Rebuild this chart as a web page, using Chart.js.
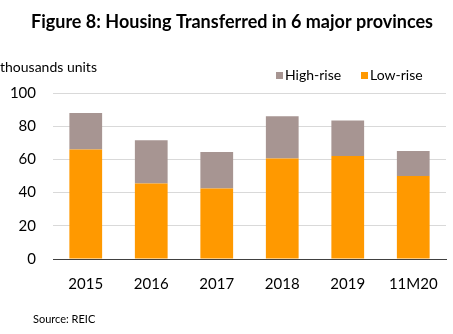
<!DOCTYPE html>
<html><head><meta charset="utf-8">
<script src="https://cdn.jsdelivr.net/npm/chart.js@4/dist/chart.umd.min.js"></script>
<style>html,body{margin:0;padding:0;background:#fff}#wrap{width:453px;height:334px}</style>
</head><body><div id="wrap"><canvas id="c" width="453" height="334"></canvas></div>
<script>
const categories = ['2015','2016','2017','2018','2019','11M20'];
const lowRise = [66, 45.5, 42.5, 60.5, 62, 50];
const highRise = [22, 26, 22, 25.5, 21.5, 15];
const yTicks = [0, 20, 40, 60, 80, 100];
const titleText = 'Figure 8: Housing Transferred in 6 major provinces';
const unitText = 'thousands units';
const sourceText = 'Source: REIC';
const FONT = 'Lato, "Open Sans", sans-serif';

const textPlugin = {
  id: 'texts',
  afterDraw(chart) {
    const ctx = chart.ctx;
    ctx.save();
    ctx.fillStyle = '#000';
    ctx.textBaseline = 'middle';
    ctx.font = 'bold 18px ' + FONT;
    ctx.textAlign = 'center';
    ctx.fillText(titleText, 232, 22);
    ctx.font = '14px ' + FONT;
    ctx.textAlign = 'left';
    ctx.fillText(unitText, 0, 67);
    ctx.font = '11px ' + FONT;
    ctx.fillText(sourceText, 33, 319);
    // legend
    const items = [chart.data.datasets[1], chart.data.datasets[0]];
    const xs = [276, 361];
    ctx.font = '14px ' + FONT;
    items.forEach((ds, i) => {
      ctx.fillStyle = ds.backgroundColor;
      ctx.fillRect(xs[i], 72, 7, 7);
      ctx.fillStyle = '#000';
      ctx.fillText(ds.label, xs[i] + 9, 75.5);
    });
    ctx.restore();
  }
};

new Chart(document.getElementById('c'), {
  type: 'bar',
  data: {
    labels: categories,
    datasets: [
      { label: 'Low-rise', data: lowRise, backgroundColor: '#FF9900', barPercentage: 1, categoryPercentage: 0.5 },
      { label: 'High-rise', data: highRise, backgroundColor: '#A79592', barPercentage: 1, categoryPercentage: 0.5 }
    ]
  },
  options: {
    responsive: false,
    animation: false,
    devicePixelRatio: 1,
    layout: { padding: { left: 0, right: 7, top: 93, bottom: 35 } },
    plugins: { legend: { display: false }, title: { display: false }, tooltip: { enabled: false } },
    scales: {
      x: {
        stacked: true,
        grid: { display: false },
        border: { color: '#404040', width: 1 },
        ticks: { color: '#000', font: { family: FONT, size: 15 }, padding: 8 },
        afterFit(s) { s.height = 40; }
      },
      y: {
        stacked: true,
        min: 0, max: 100,
        afterBuildTicks(s) { s.ticks = yTicks.map(v => ({ value: v })); },
        grid: { color: '#D9D9D9', drawTicks: false },
        border: { display: false },
        ticks: { color: '#000', font: { family: FONT, size: 15 }, padding: 17 },
        afterFit(s) { s.width = 53; }
      }
    }
  },
  plugins: [textPlugin]
});
</script></body></html>
